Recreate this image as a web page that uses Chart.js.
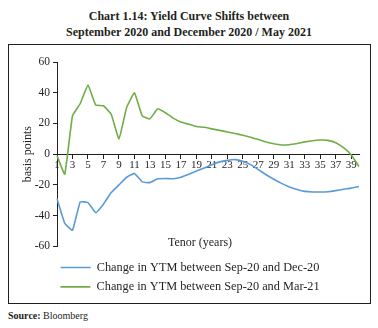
<!DOCTYPE html>
<html>
<head>
<meta charset="utf-8">
<script src="https://cdn.jsdelivr.net/npm/chart.js@4"></script>
<style>
  html, body { margin: 0; padding: 0; background: #fff; }
  body { width: 378px; height: 328px; position: relative; overflow: hidden; font-family: "Liberation Serif", serif; color: #231f20; }
  #title { position: absolute; left: 0; top: 8px; width: 378px; text-align: center; font-weight: bold; font-size: 12px; line-height: 16px; }
  #frame { position: absolute; left: 8px; top: 44px; width: 361px; height: 258px; border: 1px solid #231f20; }
  #wrap { position: absolute; left: 9px; top: 45px; width: 361px; height: 258px; }
  #src { position: absolute; left: 8px; top: 310px; font-size: 10px; line-height: 12px; }
</style>
</head>
<body>
<div id="title">Chart 1.14: Yield Curve Shifts between<br>September 2020 and December 2020 / May 2021</div>
<div id="frame"></div>
<div id="wrap"><canvas id="c" width="361" height="258"></canvas></div>
<div id="src"><b>Source:</b> Bloomberg</div>
<script>
const tenors = ['1','2','3','4','5','6','7','8','9','10','11','12','13','14','15','16','17','18','19','20',
                '21','22','23','24','25','26','27','28','29','30','31','32','33','34','35','36','37','38','39','40'];
const decChange = [-29, -45, -49.5, -31, -31.5, -38, -32.5, -25, -20, -15, -12.5, -18, -18.5, -16, -15.8, -16, -15, -13, -11, -9,
                   -6.8, -5, -4, -3.5, -4.6, -6.8, -10, -13.4, -16.3, -19, -21.3, -23, -24.2, -24.6, -24.6, -24.4, -23.7, -22.8, -22.1, -21];
const marChange = [-1, -13, 25, 33, 45, 32, 31.5, 26, 10, 30.5, 40, 25, 23, 29.5, 27, 23.5, 21, 19.5, 18, 17.5,
                   16.5, 15.5, 14.5, 13.5, 12.3, 11, 9.5, 8, 6.8, 6, 6.2, 7, 8, 8.8, 9.2, 9, 7.5, 4.2, -0.5, -8];
const seriesNames = ['Change in YTM between Sep-20 and Dec-20', 'Change in YTM between Sep-20 and Mar-21'];
const yTitle = 'basis points';
const xTitle = 'Tenor (years)';

const serif = '"Liberation Serif", "Times New Roman", serif';
const ink = '#231f20';

const tenorLabel = {
  id: 'tenorLabel',
  afterDraw(chart) {
    const {ctx, chartArea} = chart;
    ctx.save();
    ctx.font = '12px ' + serif;
    ctx.fillStyle = ink;
    ctx.textAlign = 'center';
    ctx.textBaseline = 'middle';
    ctx.fillText(xTitle, (chartArea.left + chartArea.right) / 2 - 8, chartArea.bottom - 3.5);
    ctx.restore();
  }
};

new Chart(document.getElementById('c'), {
  type: 'line',
  data: {
    labels: tenors,
    datasets: [
      { label: seriesNames[0], data: decChange, borderColor: '#5b9bd5', backgroundColor: '#5b9bd5', borderWidth: 1.6, pointRadius: 0, tension: 0.1 },
      { label: seriesNames[1], data: marChange, borderColor: '#70ad47', backgroundColor: '#70ad47', borderWidth: 1.6, pointRadius: 0, tension: 0.1 }
    ]
  },
  options: {
    responsive: false,
    animation: false,
    devicePixelRatio: 1,
    layout: { padding: { left: 12, right: 11, top: 17, bottom: 0 } },
    plugins: {
      title: { display: false },
      tooltip: { enabled: false },
      legend: {
        position: 'bottom',
        labels: {
          usePointStyle: true,
          pointStyle: 'line',
          pointStyleWidth: 30,
          padding: 7,
          color: ink,
          font: { family: serif, size: 12.3 }
        }
      }
    },
    scales: {
      x: {
        type: 'category',
        position: { y: 0 },
        offset: false,
        grid: {
          offset: false,
          drawOnChartArea: false,
          drawTicks: true,
          tickLength: 4,
          color: (ctx) => (ctx.index % 2 === 0 ? ink : 'rgba(0,0,0,0)')
        },
        border: { display: true, color: ink, width: 1 },
        ticks: {
          autoSkip: false,
          maxRotation: 0,
          minRotation: 0,
          padding: 0,
          color: ink,
          font: { family: serif, size: 11 },
          callback: function (v, i) { return i % 2 === 0 ? this.getLabelForValue(v) : ''; }
        }
      },
      gap: {
        type: 'linear',
        axis: 'x',
        position: 'bottom',
        display: true,
        afterFit: (s) => { s.height = 8; },
        grid: { display: false },
        border: { display: false },
        ticks: { display: false }
      },
      y: {
        min: -60,
        max: 60,
        afterFit: (s) => { s.width = 36; },
        grid: { drawOnChartArea: false, drawTicks: true, tickLength: 4, color: ink },
        border: { display: true, color: ink, width: 1 },
        ticks: { stepSize: 20, padding: 3, color: ink, font: { family: serif, size: 11.5 } },
        title: { display: true, text: yTitle, color: ink, font: { family: serif, size: 12 }, padding: { top: 0, bottom: 0 } }
      }
    }
  },
  plugins: [tenorLabel]
});
</script>
</body>
</html>
